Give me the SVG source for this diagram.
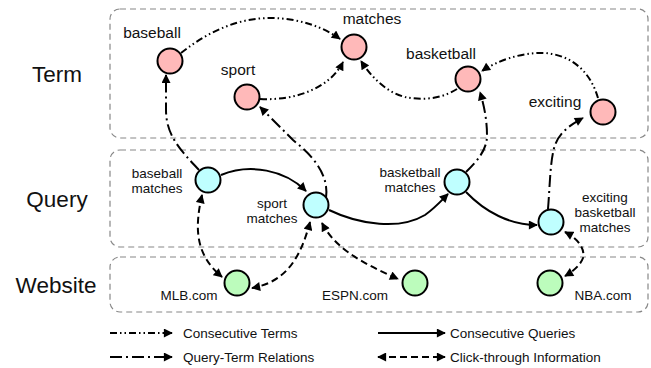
<svg xmlns="http://www.w3.org/2000/svg" width="651" height="368" viewBox="0 0 651 368">
<defs>
<marker id="ah" viewBox="0 0 10 10" refX="9" refY="5" markerWidth="10" markerHeight="9" markerUnits="userSpaceOnUse" orient="auto-start-reverse">
<path d="M0,0 L10,5 L0,10 z" fill="#000"/>
</marker>
</defs>
<style>
.layer{fill:none;stroke:#888;stroke-width:1.2;stroke-dasharray:6 4}
.lt{font-family:"Liberation Sans",Arial,sans-serif;font-size:22.5px;fill:#111;text-anchor:middle}
.tl{font-family:"Liberation Sans",Arial,sans-serif;font-size:15.5px;fill:#111;text-anchor:middle}
.ql{font-family:"Liberation Sans",Arial,sans-serif;font-size:13.5px;fill:#111;text-anchor:middle}
.lg{font-family:"Liberation Sans",Arial,sans-serif;font-size:13.5px;fill:#111}
.term{fill:#FFB9B9;stroke:#000;stroke-width:2}
.query{fill:#BFFFFF;stroke:#000;stroke-width:2}
.site{fill:#BCFCBC;stroke:#000;stroke-width:2}
.e{fill:none;stroke:#000;stroke-width:2}
.ct{stroke-dasharray:7 3 1.5 3 1.5 3;marker-end:url(#ah)}
.qt{stroke-dasharray:12 4 2 4;marker-end:url(#ah)}
.cq{marker-end:url(#ah)}
.ck{stroke-dasharray:7 4;marker-start:url(#ah);marker-end:url(#ah)}
</style>
<g id="layers">
<rect class="layer" x="110" y="9" width="538" height="129" rx="10"/>
<rect class="layer" x="110" y="150" width="538" height="97" rx="10"/>
<rect class="layer" x="110" y="257" width="538" height="55" rx="10"/>
<text class="lt" x="57" y="82">Term</text>
<text class="lt" x="57" y="207">Query</text>
<text class="lt" x="56" y="293">Website</text>
</g>
<g id="connectors">
<path class="e ct" d="M181,53 C210,30 240,18 270,18 C300,18 325,28 340,39"/>
<path class="e ct" d="M260,99 C295,101 330,88 343,62"/>
<path class="e ct" d="M457,89 C440,100 420,100 405,97 C385,92 370,75 361,61"/>
<path class="e ct" d="M598,98 C590,70 570,55 545,53 C520,52 495,62 482,71"/>
<path class="e qt" d="M199,170 C180,150 166,135 166,110 L166,75"/>
<path class="e qt" d="M326,198 C330,170 305,150 293,140 L260,107"/>
<path class="e qt" d="M466,172 C478,160 487,150 487,135 C487,120 484,105 480,92"/>
<path class="e qt" d="M548,209 C550,185 550,160 555,145 C560,132 570,125 583,118"/>
<path class="e cq" d="M221,175 C250,163 285,170 306,191"/>
<path class="e cq" d="M329,210 C360,225 400,230 425,215 C435,208 442,200 448,194"/>
<path class="e cq" d="M466,192 C485,212 510,225 537,225"/>
<path class="e ck" d="M202,195 C194,230 196,255 222,277"/>
<path class="e ck" d="M310,222 C300,260 285,282 252,288"/>
<path class="e ck" d="M322,223 C335,248 360,262 398,279"/>
<path class="e ck" d="M565,232 C580,240 585,250 583,258 C580,266 572,272 565,276"/>
</g>
<g id="n-baseball"><circle class="term" cx="170" cy="61" r="12.5"/><text class="tl" x="152" y="38">baseball</text></g>
<g id="n-matches"><circle class="term" cx="354" cy="47" r="12.5"/><text class="tl" x="372" y="24">matches</text></g>
<g id="n-sport"><circle class="term" cx="247" cy="97" r="12.5"/><text class="tl" x="238" y="75">sport</text></g>
<g id="n-basketball"><circle class="term" cx="468" cy="79" r="12.5"/><text class="tl" x="441" y="59">basketball</text></g>
<g id="n-exciting"><circle class="term" cx="603" cy="112" r="12.5"/><text class="tl" x="555" y="107">exciting</text></g>
<g id="n-q-baseball"><circle class="query" cx="208" cy="180" r="12.5"/><text class="ql" x="157" y="178">baseball</text><text class="ql" x="157" y="193">matches</text></g>
<g id="n-q-sport"><circle class="query" cx="316" cy="205" r="12.5"/><text class="ql" x="272" y="208">sport</text><text class="ql" x="272" y="223">matches</text></g>
<g id="n-q-basketball"><circle class="query" cx="457" cy="182" r="12.5"/><text class="ql" x="410" y="177">basketball</text><text class="ql" x="410" y="192">matches</text></g>
<g id="n-q-exciting"><circle class="query" cx="551" cy="222" r="12.5"/><text class="ql" x="605" y="202">exciting</text><text class="ql" x="605" y="217">basketball</text><text class="ql" x="605" y="232">matches</text></g>
<g id="n-mlb"><circle class="site" cx="237" cy="283" r="12.5"/><text class="ql" x="189" y="300">MLB.com</text></g>
<g id="n-espn"><circle class="site" cx="415" cy="283" r="12.5"/><text class="ql" x="355" y="300">ESPN.com</text></g>
<g id="n-nba"><circle class="site" cx="550" cy="283" r="12.5"/><text class="ql" x="603" y="300">NBA.com</text></g>
<g id="legend">
<path class="e ct" d="M110,333 L172,333"/>
<text class="lg" x="183" y="338">Consecutive Terms</text>
<path class="e qt" d="M110,357 L172,357"/>
<text class="lg" x="183" y="362">Query-Term Relations</text>
<path class="e cq" d="M378,333 L445,333"/>
<text class="lg" x="450" y="338">Consecutive Queries</text>
<path class="e ck" d="M378,357 L445,357"/>
<text class="lg" x="450" y="362">Click-through Information</text>
</g>
</svg>
